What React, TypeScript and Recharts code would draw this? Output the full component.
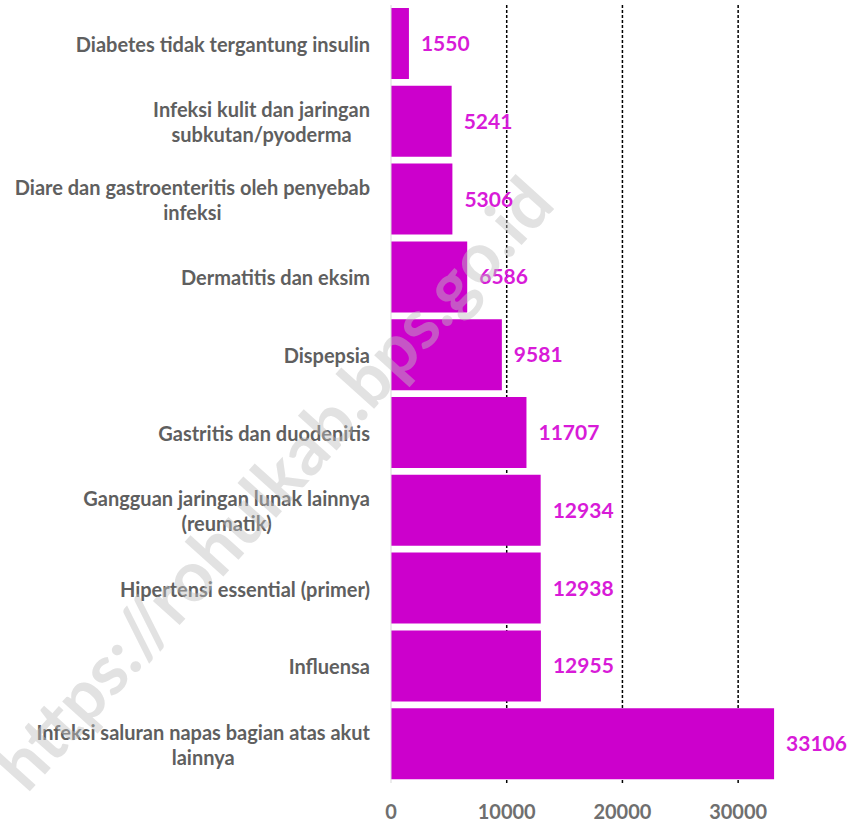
import React from "react";
import { BarChart, Bar, XAxis, YAxis, CartesianGrid, LabelList } from "recharts";

const categories: string[] = [
  "Diabetes tidak tergantung insulin",
  "Infeksi kulit dan jaringan\nsubkutan/pyoderma",
  "Diare dan gastroenteritis oleh penyebab\ninfeksi",
  "Dermatitis dan eksim",
  "Dispepsia",
  "Gastritis dan duodenitis",
  "Gangguan jaringan lunak lainnya\n(reumatik)",
  "Hipertensi essential (primer)",
  "Influensa",
  "Infeksi saluran napas bagian atas akut\nlainnya",
];

const values: number[] = [1550, 5241, 5306, 6586, 9581, 11707, 12934, 12938, 12955, 33106];

const xTicks: number[] = [0, 10000, 20000, 30000];
const gridValues: number[] = [10000, 20000, 30000];

const data = categories.map((c, i) => ({ name: c, value: values[i] }));

const FONT = "Lato, 'Open Sans', sans-serif";
const CAT_SIZE = 20;

let measureCtx: CanvasRenderingContext2D | null = null;
function measure(text: string): number {
  if (!measureCtx) {
    const c = document.createElement("canvas");
    measureCtx = c.getContext("2d");
  }
  if (!measureCtx) return text.length * CAT_SIZE * 0.5;
  measureCtx.font = `bold ${CAT_SIZE}px Lato`;
  return measureCtx.measureText(text).width;
}

const CategoryTick = (props: any) => {
  const { x, y, payload } = props;
  const lines: string[] = String(payload.value).split("\n");
  const maxW = Math.max(...lines.map(measure));
  const right = x - 13;
  const cx = right - maxW / 2;
  const lh = 25;
  const startY = y - ((lines.length - 1) * lh) / 2;
  return (
    <g>
      {lines.map((l, i) => (
        <text
          key={i}
          x={cx}
          y={startY + i * lh}
          textAnchor="middle"
          dominantBaseline="central"
          fontFamily={FONT}
          fontWeight="bold"
          fontSize={CAT_SIZE}
          fill="#5f5f5f"
        >
          {l}
        </text>
      ))}
    </g>
  );
};

export default function App() {
  return (
    <div style={{ position: "absolute", left: 0, top: 0, width: 850, height: 824, background: "#fff" }}>
      <BarChart
        width={850}
        height={824}
        data={data}
        layout="vertical"
        margin={{ top: 5, right: 54, bottom: 0, left: 0 }}
        barSize={71}
      >
        <CartesianGrid
          horizontal={false}
          vertical={true}
          verticalValues={gridValues}
          stroke="#000"
          strokeWidth={1.5}
          strokeDasharray="3 2"
        />
        <XAxis
          type="number"
          domain={[0, 35000]}
          ticks={xTicks}
          axisLine={false}
          tickLine={false}
          tickSize={0}
          tickMargin={22}
          height={41}
          tick={{ fill: "#6f6f6f", fontSize: 20, fontWeight: "bold", fontFamily: FONT }}
          interval={0}
        />
        <YAxis
          type="category"
          dataKey="name"
          width={391}
          axisLine={{ stroke: "#d9d9d9", strokeWidth: 1 }}
          tickLine={false}
          tick={<CategoryTick />}
          interval={0}
        />
        <Bar dataKey="value" fill="#cc00cc" isAnimationActive={false}>
          <LabelList
            dataKey="value"
            position="right"
            offset={12}
            fill="#d81bd8"
            fontSize={21}
            fontWeight="bold"
            fontFamily={FONT}
          />
        </Bar>
      </BarChart>
      <svg
        width={850}
        height={824}
        style={{ position: "absolute", left: 0, top: 0, pointerEvents: "none" }}
      >
        <text
          x={272}
          y={482}
          transform="rotate(-48 272 482)"
          textAnchor="middle"
          dominantBaseline="central"
          fontFamily={FONT}
          fontWeight="bold"
          fontSize={70}
          fill="#bfbfbf"
          fillOpacity={0.45}
        >
          https://rohulkab.bps.go.id
        </text>
      </svg>
    </div>
  );
}
